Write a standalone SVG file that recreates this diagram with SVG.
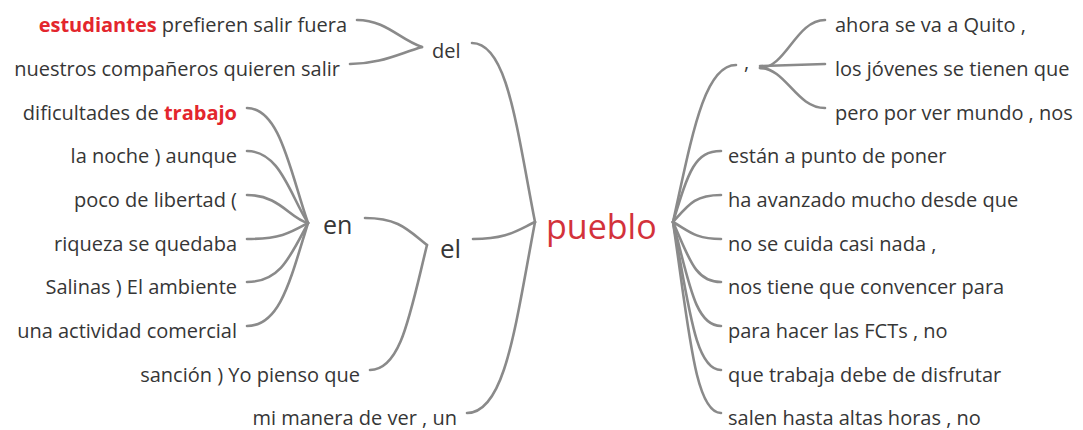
<svg xmlns="http://www.w3.org/2000/svg" width="1083" height="430" viewBox="0 0 1083 430">
<style>
text{font-family:"Open Sans","Noto Sans","DejaVu Sans",sans-serif;fill:#363636;}
.leaf{font-size:20px;}
.l{text-anchor:end;}
.hl{fill:#e3262d;font-weight:bold;}
.mid{font-size:25px;}
.root{font-size:34px;fill:#d3323b;}
#connectors path{fill:none;stroke:#8a8a8a;stroke-width:2.6;stroke-linecap:round;}
</style>
<rect width="1083" height="430" fill="#fff"/>
<g id="connectors">
<path d="M357,20 C386,20 400,40 422,47"/>
<path d="M350,64 C380,64 398,54 422,47"/>
<path d="M247,108 C280,108 290,171 308,223"/>
<path d="M247,151 C280,151 290,195 308,223"/>
<path d="M247,195 C280,195 290,219 308,223"/>
<path d="M247,239 C280,239 290,233 308,223"/>
<path d="M247,282 C280,282 290,257 308,223"/>
<path d="M247,326 C280,326 290,281 308,223"/>
<path d="M365,218 C399,218 408,230 427,245"/>
<path d="M370,370 C401,370 410,314 427,245"/>
<path d="M472,43 C507,43 516,124 535,222"/>
<path d="M473,239 C507,239 516,231 535,222"/>
<path d="M467,413 C505,413 515,328 535,222"/>
<path d="M673,222 C692,136 704,65 736,65"/>
<path d="M760,68 C786,68 796,20 825,20"/>
<path d="M760,66 L825,64"/>
<path d="M760,68 C786,68 796,108 825,108"/>
<path d="M673,222 C689,170 695,151 721,151"/>
<path d="M673,222 C689,204 695,195 721,195"/>
<path d="M673,222 C689,231 695,239 721,239"/>
<path d="M673,222 C689,258 695,282 721,282"/>
<path d="M673,222 C689,282 695,326 721,326"/>
<path d="M673,222 C689,306 695,370 721,370"/>
<path d="M673,222 C689,330 695,413 721,413"/>
</g>
<g id="n-l0"><text class="leaf l" x="347" y="32"><tspan class="hl">estudiantes</tspan> prefieren salir fuera</text></g>
<g id="n-l1"><text class="leaf l" x="340" y="76">nuestros compañeros quieren salir</text></g>
<g id="n-l2"><text class="leaf l" x="237" y="120">dificultades de <tspan class="hl">trabajo</tspan></text></g>
<g id="n-l3"><text class="leaf l" x="237" y="163">la noche ) aunque</text></g>
<g id="n-l4"><text class="leaf l" x="237" y="207">poco de libertad (</text></g>
<g id="n-l5"><text class="leaf l" x="237" y="251">riqueza se quedaba</text></g>
<g id="n-l6"><text class="leaf l" x="237" y="294">Salinas ) El ambiente</text></g>
<g id="n-l7"><text class="leaf l" x="237" y="338">una actividad comercial</text></g>
<g id="n-l8"><text class="leaf l" x="360" y="382">sanción ) Yo pienso que</text></g>
<g id="n-l9"><text class="leaf l" x="457" y="425">mi manera de ver , un</text></g>
<g id="n-del"><text x="432" y="58" style="font-size:20px">del</text></g>
<g id="n-en"><text class="mid" x="323" y="234">en</text></g>
<g id="n-el"><text x="440" y="258" style="font-size:26px">el</text></g>
<g id="n-pueblo"><text class="root" x="546" y="239">pueblo</text></g>
<g id="n-comma"><text class="leaf" x="744" y="69">,</text></g>
<g id="n-r0"><text class="leaf" x="835" y="32">ahora se va a Quito ,</text></g>
<g id="n-r1"><text class="leaf" x="835" y="76">los jóvenes se tienen que</text></g>
<g id="n-r2"><text class="leaf" x="835" y="120">pero por ver mundo , nos</text></g>
<g id="n-r3"><text class="leaf" x="728" y="163">están a punto de poner</text></g>
<g id="n-r4"><text class="leaf" x="728" y="207">ha avanzado mucho desde que</text></g>
<g id="n-r5"><text class="leaf" x="728" y="251">no se cuida casi nada ,</text></g>
<g id="n-r6"><text class="leaf" x="728" y="294">nos tiene que convencer para</text></g>
<g id="n-r7"><text class="leaf" x="728" y="338">para hacer las FCTs , no</text></g>
<g id="n-r8"><text class="leaf" x="728" y="382">que trabaja debe de disfrutar</text></g>
<g id="n-r9"><text class="leaf" x="728" y="425">salen hasta altas horas , no</text></g>
</svg>
